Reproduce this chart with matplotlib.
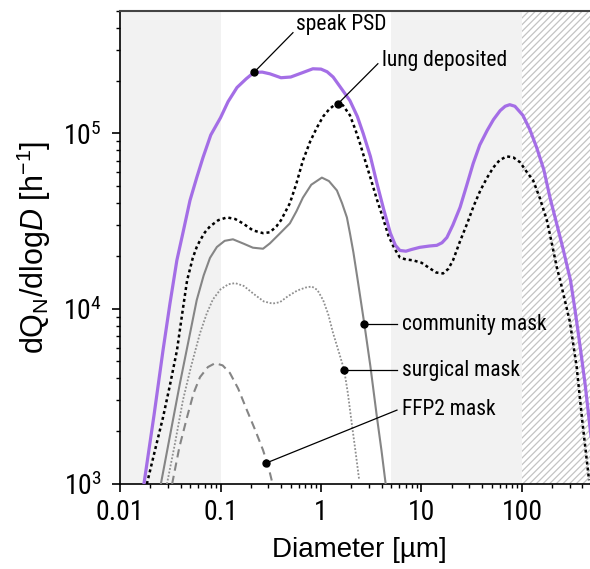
import matplotlib
matplotlib.use("Agg")
import matplotlib.pyplot as plt
from matplotlib import font_manager
from matplotlib.ticker import LogLocator, NullFormatter, FixedLocator, FixedFormatter

# particle size distributions (diameter in um, dQN/dlogD in 1/h)
speak_x = [0.0173, 0.0218, 0.0268, 0.0314, 0.0368, 0.0424, 0.0497, 0.058, 0.067, 0.08,
           0.1, 0.119, 0.146, 0.18, 0.215, 0.26, 0.31, 0.4, 0.5, 0.65, 0.83, 1.0, 1.15,
           1.32, 1.6, 1.94, 2.3, 2.63, 3.1, 3.6, 4.2, 4.9, 5.5, 6.1, 7, 8, 9.6, 12, 14.2,
           16, 17.9, 20.5, 24.2, 28, 32.7, 38, 45, 52, 60.6, 68, 75.5, 85, 102, 120, 140,
           165, 190, 220, 256, 304, 340, 380, 425, 475, 555]
speak_y = [1000, 2470, 5800, 10700, 18900, 27300, 41500, 56000, 73000, 98000,
           123000, 152000, 183000, 205000, 223000, 224000, 219000, 208000, 210000, 222000,
           234000, 233000, 225000, 210000, 180000, 154000, 125000, 100000, 74000, 52000,
           37000, 27000, 23000, 21500, 21300, 21800, 22400, 22800, 23000, 23800, 25500,
           30000, 37900, 50000, 67500, 86000, 104000, 120000, 135000, 143000, 146000,
           143000, 127000, 105000, 83000, 62000, 43000, 31000, 22000, 14500, 9500, 6000,
           3700, 2100, 1000]

lung_x = [0.0185, 0.0223, 0.0268, 0.0315, 0.0369, 0.0415, 0.0465, 0.053, 0.058, 0.0625,
          0.07, 0.0786, 0.095, 0.116, 0.14, 0.167, 0.21, 0.265, 0.31, 0.36, 0.4, 0.49,
          0.57, 0.66, 0.78, 0.91, 1.05, 1.2, 1.35, 1.48, 1.65, 1.94, 2.2, 2.44, 2.75, 3.1,
          3.6, 4.1, 4.7, 5.4, 6.1, 7, 8.2, 10, 12.1, 14, 16.4, 18.5, 20.6, 24, 28.5, 33,
          38.5, 45, 51.9, 60, 70.6, 82, 95.7, 110, 129, 150, 177, 200, 222, 240, 300, 350,
          400, 465]
lung_y = [1000, 1560, 2400, 3700, 5800, 9300, 14500, 19500, 22500, 24500,
          27300, 29500, 32000, 33200, 32500, 30700, 28000, 27000, 27300, 29500, 32000,
          40000, 52000, 70000, 90000, 108000, 125000, 137000, 145000, 148000, 145000,
          127000, 105000, 88000, 70000, 56000, 42000, 33500, 26000, 22000, 19600, 19100,
          18900, 18300, 17000, 16100, 15900, 16900, 18900, 24000, 30700, 38500, 47300,
          56000, 64000, 70500, 74000, 73000, 68500, 61000, 54000, 43000, 31900, 23000,
          17200, 14500, 8400, 4640, 2230, 1050]

community_x = [0.0255, 0.0322, 0.0395, 0.048, 0.058, 0.068, 0.0786, 0.092, 0.11, 0.133,
               0.17, 0.21, 0.265, 0.31, 0.38, 0.49, 0.57, 0.66, 0.8, 1.02, 1.2, 1.44, 1.62,
               1.81, 1.94, 2.1, 2.3, 2.7, 3.1, 3.6, 4.0, 4.4]
community_y = [1000, 2030, 3760, 6540, 11200, 15500, 19500, 22500, 24400, 24900,
               23500, 22300, 22000, 23600, 26500, 30700, 36000, 43000, 51000, 56000, 53500,
               47300, 40000, 33200, 27000, 21000, 15000, 8170, 4700, 2410, 1550, 1000]

surgical_x = [0.0293, 0.035, 0.0423, 0.051, 0.0625, 0.073, 0.084, 0.1, 0.12, 0.14, 0.17,
              0.22, 0.27, 0.33, 0.39, 0.47, 0.58, 0.7, 0.81, 0.92, 1.05, 1.18, 1.32, 1.5,
              1.7, 1.85, 2.02, 2.2, 2.4]
surgical_y = [1000, 1670, 3010, 4700, 7250, 9400, 11300, 12900, 13800, 14000, 13500,
              12000, 11000, 10700, 10900, 11800, 12700, 13200, 13400, 12800, 11200, 9300,
              7250, 5700, 4470, 3300, 2230, 1550, 1050]

ffp2_x = [0.033, 0.039, 0.0465, 0.054, 0.0625, 0.075, 0.0885, 0.105, 0.124, 0.15, 0.183,
          0.22, 0.265, 0.3, 0.33]
ffp2_y = [1000, 1625, 2410, 3300, 4070, 4650, 4890, 4750, 4300, 3500, 2640, 2050, 1560,
          1250, 1000]

# labels: (text, marker point, line end, text position)
labels = [
    ("speak PSD", (0.215, 2.23e5), (0.526, 3.76e5), (0.564, 4.18e5)),
    ("lung deposited", (1.48, 1.48e5), (3.68, 2.5e5), (4.05, 2.6e5)),
    ("community mask", (2.7, 8170), (5.7, 8170), (6.4, 8170)),
    ("surgical mask", (1.7, 4470), (5.7, 4470), (6.4, 4470)),
    ("FFP2 mask", (0.284, 1316), (5.7, 2640), (6.4, 2650)),
]

# the reference uses a narrow Arial-like face for ticks and labels
names = {f.name for f in font_manager.fontManager.ttflist}
narrow = None
for cand in ["Liberation Sans Narrow", "Arial Narrow", "Roboto Condensed",
             "Open Sans Condensed"]:
    if cand in names:
        narrow = cand
        break
if narrow is None:
    narrow = "Liberation Sans"
    tick_size, note_size = 18, 14
else:
    tick_size, note_size = 20, 15.5

plt.rcParams["font.family"] = ["Liberation Sans", "DejaVu Sans"]
plt.rcParams["mathtext.fontset"] = "custom"
plt.rcParams["mathtext.rm"] = "Liberation Sans"
plt.rcParams["mathtext.it"] = "Liberation Sans:italic"
plt.rcParams["hatch.linewidth"] = 0.9
plt.rcParams["hatch.color"] = "#c4c4c4"

fig = plt.figure(figsize=(5.9, 5.69), dpi=100)
ax = fig.add_axes([0.2034, 0.1494, 0.7966, 0.8313])

# background regions
ax.axvspan(0.01, 0.1, color="#f2f2f2", lw=0, zorder=0)
ax.axvspan(5, 100, color="#f2f2f2", lw=0, zorder=0)
ax.axvspan(100, 1000, facecolor="white", edgecolor="#c4c4c4", hatch="/////", lw=0, zorder=0)

ax.plot(speak_x, speak_y, color="#a46ee6", lw=2.3, zorder=5)
ax.plot(lung_x, lung_y, color="black", lw=1.8, ls=(0, (1.2, 1.2)), zorder=4)
ax.plot(community_x, community_y, color="#858585", lw=1.5, zorder=3)
ax.plot(surgical_x, surgical_y, color="#8f8f8f", lw=1.3, ls=(0, (1, 1)), zorder=3)
ax.plot(ffp2_x, ffp2_y, color="#858585", lw=1.5, ls=(0, (4, 2.5)), zorder=3)

for text, pt, end, pos in labels:
    ax.plot([pt[0], end[0]], [pt[1], end[1]], color="black", lw=0.9, zorder=6)
    ax.plot(pt[0], pt[1], "o", color="black", ms=5, zorder=7)
    ax.text(pos[0], pos[1], text, ha="left", va="center", fontsize=note_size,
            family=narrow, zorder=7)

ax.set_xscale("log")
ax.set_yscale("log")
ax.set_xlim(0.01, 475)
ax.set_ylim(1e3, 5e5)

ax.xaxis.set_major_locator(FixedLocator([0.01, 0.1, 1, 10, 100]))
ax.xaxis.set_major_formatter(FixedFormatter(["0.01", "0.1", "1", "10", "100"]))
ax.xaxis.set_minor_locator(LogLocator(base=10, subs=range(2, 10), numticks=20))
ax.xaxis.set_minor_formatter(NullFormatter())
ax.yaxis.set_major_locator(LogLocator(base=10, numticks=10))
ax.yaxis.set_minor_locator(LogLocator(base=10, subs=range(2, 10), numticks=20))
ax.yaxis.set_minor_formatter(NullFormatter())

ax.tick_params(which="major", direction="out", length=6, width=1.2, pad=5,
               labelsize=tick_size)
ax.tick_params(axis="y", which="major", pad=7)
ax.tick_params(which="minor", direction="out", length=3, width=1.0)
for lab in ax.get_xticklabels() + ax.get_yticklabels():
    lab.set_family(narrow)

ax.spines["right"].set_visible(False)
ax.spines["top"].set_color("#444444")
ax.spines["top"].set_linewidth(1.5)
ax.spines["left"].set_linewidth(1.2)
ax.spines["bottom"].set_linewidth(1.2)

ax.set_xlabel("Diameter [µm]", fontsize=20)
ax.xaxis.set_label_coords(0.51, -0.14)
ax.xaxis.label.set_va("center")
ax.set_ylabel(r"d$\mathregular{Q_N}$/dlog$\mathit{D}$ [h$\mathregular{^{-1}}$]", fontsize=22)
ax.yaxis.set_label_coords(-0.183, 0.5)
ax.yaxis.label.set_va("center")

fig.savefig("out.png", dpi=100)
